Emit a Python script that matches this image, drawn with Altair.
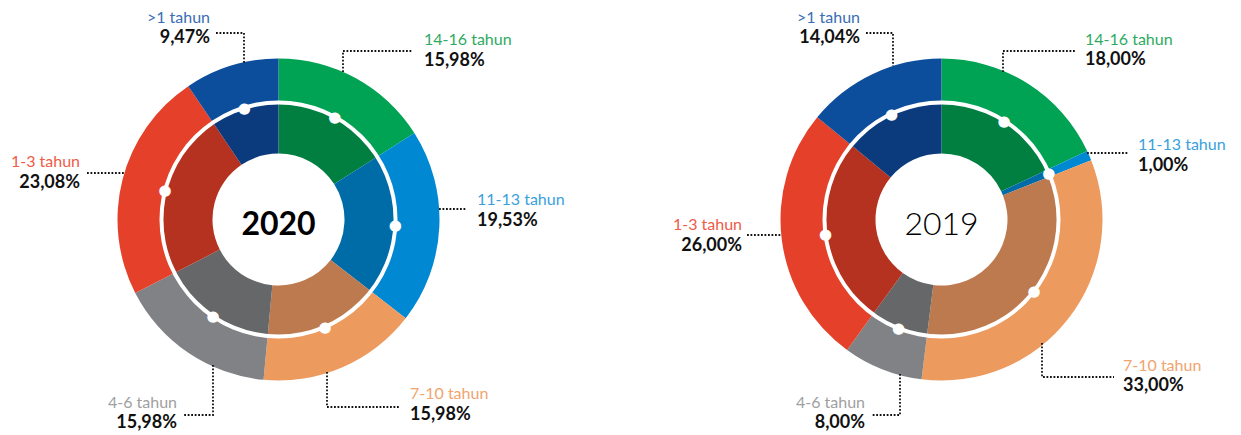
import math
import altair as alt
import pandas as pd

# ---------------- data ----------------
categories = ["14-16 tahun", "11-13 tahun", "7-10 tahun", "4-6 tahun", "1-3 tahun", ">1 tahun"]
years = ["2020", "2019"]
values_2020 = [15.98, 19.53, 15.98, 15.98, 23.08, 9.47]
values_2019 = [18.00, 1.00, 33.00, 8.00, 26.00, 14.04]

# ---------------- styles ----------------
outer_colors = ["#00a254", "#0088d2", "#ed9a5f", "#818286", "#e5412a", "#0c4e9c"]
inner_colors = ["#007f41", "#006ca7", "#bd7a4e", "#666769", "#b53220", "#0b3b7d"]
label_colors = ["#2eaa62", "#3aa0dc", "#f0a46e", "#a0a0a2", "#ee5b48", "#3a6db4"]

FONT = "Lato"
MARGIN = 8
PANEL_W = [612, 613]
PANEL_H = 427
CENTERS = {"2020": (278.5, 219.5), "2019": (941.5, 219.5)}
R_OUT, R_MID, R_IN = 161, 117, 66

# label layout in page pixels: align, x, category baseline, value baseline, leader points
LAYOUT = {
    "2020": [
        ("left", 424, 45, 66, [(343, 72), (343, 51), (413, 51)]),
        ("left", 477, 205, 226, [(439, 209), (467, 209)]),
        ("left", 410, 399, 420, [(327, 372), (327, 407), (400, 407)]),
        ("right", 177, 408, 428, [(213, 365), (213, 415), (184, 415)]),
        ("right", 80, 167, 188, [(87, 173), (125, 173)]),
        ("right", 210, 23, 43, [(216, 33), (244, 33), (244, 63)]),
    ],
    "2019": [
        ("left", 1085, 45, 65, [(1003, 72), (1003, 51), (1076, 51)]),
        ("left", 1138, 150, 171, [(1087, 153), (1128, 153)]),
        ("left", 1123, 371, 391, [(1042, 343), (1042, 377), (1114, 377)]),
        ("right", 865, 408, 428, [(900, 374), (900, 415), (872, 415)]),
        ("right", 742, 230, 251, [(747, 235), (782, 235)]),
        ("right", 860, 23, 43, [(866, 33), (893, 33), (893, 66)]),
    ],
}


def fmt(v):
    return f"{v:.2f}".replace(".", ",") + "%"


def panel(year, values, idx):
    ox = MARGIN + sum(PANEL_W[:idx])
    oy = MARGIN
    cx, cy = CENTERS[year][0] - ox, CENTERS[year][1] - oy

    df = pd.DataFrame({
        "cat": categories,
        "k": list(range(len(categories))),
        "value": values,
        "outer": outer_colors,
        "inner": inner_colors,
    })
    base = alt.Chart(df).encode(
        theta=alt.Theta("value:Q", stack=True),
        order=alt.Order("k:Q", sort="ascending"),
        x=alt.value(cx),
        y=alt.value(cy),
    )
    outer = base.mark_arc(radius=R_OUT, radius2=R_MID).encode(
        color=alt.Color("outer:N", scale=None)
    )
    inner = base.mark_arc(radius=R_MID, radius2=R_IN).encode(
        color=alt.Color("inner:N", scale=None)
    )
    ring = alt.Chart(pd.DataFrame({"a": [0]})).mark_arc(
        theta=0, theta2=2 * math.pi, radius=R_MID + 2, radius2=R_MID - 2, color="white"
    ).encode(x=alt.value(cx), y=alt.value(cy))
    dots = base.mark_text(
        text="●", radius=R_MID, fontSize=15, color="white", font="DejaVu Sans",
        align="center", baseline="middle"
    )
    center = alt.Chart(pd.DataFrame({"t": [year]})).mark_text(
        fontSize=32, font=FONT, fontWeight="bold" if year == "2020" else 300,
        color="#000000", align="center", baseline="alphabetic"
    ).encode(text="t:N", x=alt.value(cx), y=alt.value(235 - oy))

    # leader lines
    rows = []
    for i, (al, lx, yc, yv, pts) in enumerate(LAYOUT[year]):
        for j, (px, py) in enumerate(pts):
            rows.append({"seg": i, "j": j, "px": px - ox, "py": py - oy})
    leaders = alt.Chart(pd.DataFrame(rows)).mark_line(
        color="#111111", strokeWidth=1.8, strokeDash=[1.8, 1.7], strokeCap="butt"
    ).encode(
        x=alt.X("px:Q", scale=None, axis=None),
        y=alt.Y("py:Q", scale=None, axis=None),
        detail="seg:N",
        order="j:Q",
    )

    lab = pd.DataFrame({
        "cat": categories,
        "val": [fmt(v) for v in values],
        "lc": label_colors,
        "al": [t[0] for t in LAYOUT[year]],
        "lx": [t[1] - ox for t in LAYOUT[year]],
        "yc": [t[2] - oy for t in LAYOUT[year]],
        "yv": [t[3] - oy for t in LAYOUT[year]],
    })
    layers = []
    for al in ["left", "right"]:
        lb = alt.Chart(lab).transform_filter(alt.datum.al == al)
        layers.append(lb.mark_text(align=al, baseline="alphabetic", fontSize=16, font=FONT).encode(
            x=alt.X("lx:Q", scale=None, axis=None),
            y=alt.Y("yc:Q", scale=None, axis=None),
            text="cat:N",
            color=alt.Color("lc:N", scale=None),
        ))
        layers.append(lb.mark_text(align=al, baseline="alphabetic", fontSize=18, font=FONT,
                                   fontWeight="bold", color="#111111").encode(
            x=alt.X("lx:Q", scale=None, axis=None),
            y=alt.Y("yv:Q", scale=None, axis=None),
            text="val:N",
        ))

    return alt.layer(outer, inner, ring, dots, center, leaders, *layers).properties(
        width=PANEL_W[idx], height=PANEL_H
    )


chart = alt.hconcat(
    panel("2020", values_2020, 0),
    panel("2019", values_2019, 1),
    spacing=0,
).properties(padding=0).configure_view(stroke=None)

chart.save("out.html", embed_options={"renderer": "svg", "actions": False})
